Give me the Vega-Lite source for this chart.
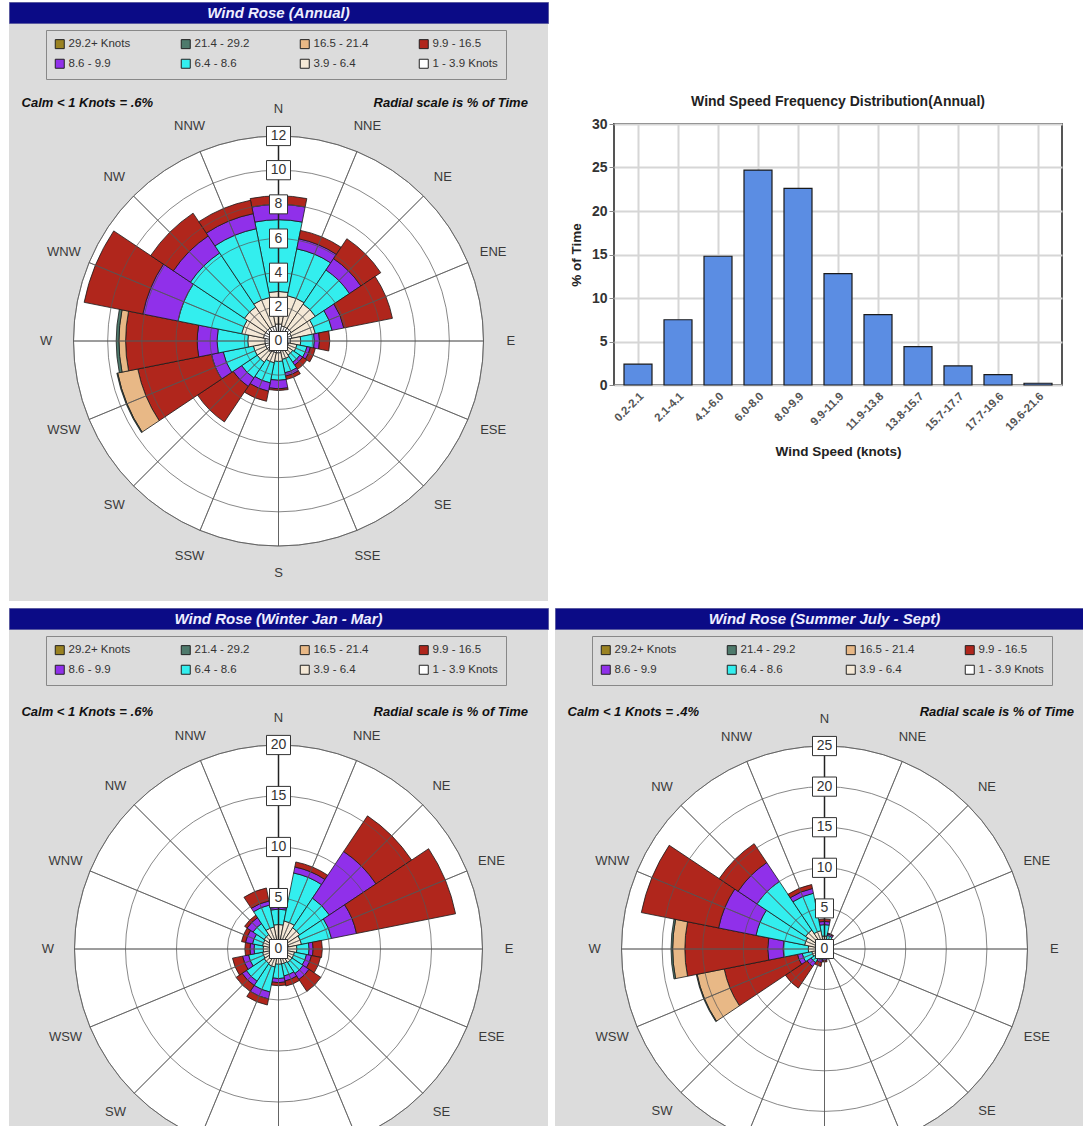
{
  "$schema": "https://vega.github.io/schema/vega-lite/v6.json",
  "background": "white",
  "padding": {"left": 8, "top": 1, "right": 0, "bottom": 0},
  "config": {"font": "Liberation Sans", "view": {"stroke": null}},
  "datasets": {
    "dirs": [{"d":"N"},{"d":"NNE"},{"d":"NE"},{"d":"ENE"},{"d":"E"},{"d":"ESE"},{"d":"SE"},{"d":"SSE"},{"d":"S"},{"d":"SSW"},{"d":"SW"},{"d":"WSW"},{"d":"W"},{"d":"WNW"},{"d":"NW"},{"d":"NNW"}],
    "annual": [
      {"d":"N","k":1,"v":1.0},{"d":"N","k":2,"v":1.9},{"d":"N","k":3,"v":4.2},{"d":"N","k":4,"v":0.9},{"d":"N","k":5,"v":0.5},
      {"d":"NNE","k":1,"v":0.9},{"d":"NNE","k":2,"v":1.8},{"d":"NNE","k":3,"v":2.8},{"d":"NNE","k":4,"v":0.6},{"d":"NNE","k":5,"v":0.5},
      {"d":"NE","k":1,"v":0.9},{"d":"NE","k":2,"v":1.7},{"d":"NE","k":3,"v":2.4},{"d":"NE","k":4,"v":0.8},{"d":"NE","k":5,"v":1.4},
      {"d":"ENE","k":1,"v":0.8},{"d":"ENE","k":2,"v":1.4},{"d":"ENE","k":3,"v":1.0},{"d":"ENE","k":4,"v":0.7},{"d":"ENE","k":5,"v":2.9},
      {"d":"E","k":1,"v":0.7},{"d":"E","k":2,"v":0.6},{"d":"E","k":3,"v":0.8},{"d":"E","k":4,"v":0.3},{"d":"E","k":5,"v":0.6},
      {"d":"ESE","k":1,"v":0.6},{"d":"ESE","k":2,"v":0.5},{"d":"ESE","k":3,"v":0.6},{"d":"ESE","k":4,"v":0.2},{"d":"ESE","k":5,"v":0.3},
      {"d":"SE","k":1,"v":0.5},{"d":"SE","k":2,"v":0.5},{"d":"SE","k":3,"v":0.5},{"d":"SE","k":4,"v":0.2},{"d":"SE","k":5,"v":0.3},
      {"d":"SSE","k":1,"v":0.6},{"d":"SSE","k":2,"v":0.5},{"d":"SSE","k":3,"v":0.8},{"d":"SSE","k":4,"v":0.2},{"d":"SSE","k":5,"v":0.2},
      {"d":"S","k":1,"v":0.7},{"d":"S","k":2,"v":0.5},{"d":"S","k":3,"v":1.1},{"d":"S","k":4,"v":0.5},{"d":"S","k":5,"v":0.1},
      {"d":"SSW","k":1,"v":0.7},{"d":"SSW","k":2,"v":0.6},{"d":"SSW","k":3,"v":1.2},{"d":"SSW","k":4,"v":0.5},{"d":"SSW","k":5,"v":0.6},
      {"d":"SW","k":1,"v":0.8},{"d":"SW","k":2,"v":0.7},{"d":"SW","k":3,"v":1.1},{"d":"SW","k":4,"v":0.6},{"d":"SW","k":5,"v":2.5},
      {"d":"WSW","k":1,"v":0.8},{"d":"WSW","k":2,"v":0.7},{"d":"WSW","k":3,"v":1.8},{"d":"WSW","k":4,"v":0.7},{"d":"WSW","k":5,"v":4.4},{"d":"WSW","k":6,"v":1.2},{"d":"WSW","k":7,"v":0.05},
      {"d":"W","k":1,"v":0.8},{"d":"W","k":2,"v":1.0},{"d":"W","k":3,"v":1.8},{"d":"W","k":4,"v":1.16},{"d":"W","k":5,"v":4.19},{"d":"W","k":6,"v":0.39},{"d":"W","k":7,"v":0.16},
      {"d":"WNW","k":1,"v":0.9},{"d":"WNW","k":2,"v":1.3},{"d":"WNW","k":3,"v":3.8},{"d":"WNW","k":4,"v":2.1},{"d":"WNW","k":5,"v":3.5},
      {"d":"NW","k":1,"v":0.9},{"d":"NW","k":2,"v":1.5},{"d":"NW","k":3,"v":3.8},{"d":"NW","k":4,"v":1.2},{"d":"NW","k":5,"v":1.6},
      {"d":"NNW","k":1,"v":0.9},{"d":"NNW","k":2,"v":1.7},{"d":"NNW","k":3,"v":4.1},{"d":"NNW","k":4,"v":0.9},{"d":"NNW","k":5,"v":0.8}
    ],
    "winter": [
      {"d":"N","k":1,"v":0.9},{"d":"N","k":2,"v":1.5},{"d":"N","k":3,"v":1.5},{"d":"N","k":4,"v":0.2},{"d":"N","k":5,"v":0.2},
      {"d":"NNE","k":1,"v":1.0},{"d":"NNE","k":2,"v":1.8},{"d":"NNE","k":3,"v":4.8},{"d":"NNE","k":4,"v":0.6},{"d":"NNE","k":5,"v":0.5},
      {"d":"NE","k":1,"v":1.0},{"d":"NE","k":2,"v":1.5},{"d":"NE","k":3,"v":3.5},{"d":"NE","k":4,"v":5.5},{"d":"NE","k":5,"v":4.2},
      {"d":"ENE","k":1,"v":1.0},{"d":"ENE","k":2,"v":1.3},{"d":"ENE","k":3,"v":3.0},{"d":"ENE","k":4,"v":2.5},{"d":"ENE","k":5,"v":9.9},
      {"d":"E","k":1,"v":0.9},{"d":"E","k":2,"v":0.9},{"d":"E","k":3,"v":1.2},{"d":"E","k":4,"v":0.4},{"d":"E","k":5,"v":0.9},
      {"d":"ESE","k":1,"v":0.8},{"d":"ESE","k":2,"v":0.8},{"d":"ESE","k":3,"v":1.2},{"d":"ESE","k":4,"v":0.5},{"d":"ESE","k":5,"v":0.9},
      {"d":"SE","k":1,"v":0.8},{"d":"SE","k":2,"v":0.8},{"d":"SE","k":3,"v":1.3},{"d":"SE","k":4,"v":0.7},{"d":"SE","k":5,"v":1.4},
      {"d":"SSE","k":1,"v":0.8},{"d":"SSE","k":2,"v":0.7},{"d":"SSE","k":3,"v":1.2},{"d":"SSE","k":4,"v":0.5},{"d":"SSE","k":5,"v":0.5},
      {"d":"S","k":1,"v":0.8},{"d":"S","k":2,"v":0.7},{"d":"S","k":3,"v":1.4},{"d":"S","k":4,"v":0.4},{"d":"S","k":5,"v":0.3},
      {"d":"SSW","k":1,"v":0.9},{"d":"SSW","k":2,"v":0.9},{"d":"SSW","k":3,"v":2.5},{"d":"SSW","k":4,"v":0.7},{"d":"SSW","k":5,"v":0.6},
      {"d":"SW","k":1,"v":0.9},{"d":"SW","k":2,"v":0.8},{"d":"SW","k":3,"v":2.1},{"d":"SW","k":4,"v":0.5},{"d":"SW","k":5,"v":0.7},
      {"d":"WSW","k":1,"v":0.8},{"d":"WSW","k":2,"v":0.8},{"d":"WSW","k":3,"v":1.4},{"d":"WSW","k":4,"v":0.6},{"d":"WSW","k":5,"v":1.0},
      {"d":"W","k":1,"v":0.8},{"d":"W","k":2,"v":0.7},{"d":"W","k":3,"v":0.9},{"d":"W","k":4,"v":0.4},{"d":"W","k":5,"v":0.5},
      {"d":"WNW","k":1,"v":0.8},{"d":"WNW","k":2,"v":0.8},{"d":"WNW","k":3,"v":1.0},{"d":"WNW","k":4,"v":0.7},{"d":"WNW","k":5,"v":0.4},
      {"d":"NW","k":1,"v":0.8},{"d":"NW","k":2,"v":0.9},{"d":"NW","k":3,"v":1.3},{"d":"NW","k":4,"v":0.7},{"d":"NW","k":5,"v":0.3},
      {"d":"NNW","k":1,"v":0.9},{"d":"NNW","k":2,"v":1.3},{"d":"NNW","k":3,"v":2.2},{"d":"NNW","k":4,"v":0.4},{"d":"NNW","k":5,"v":1.3}
    ],
    "summer": [
      {"d":"N","k":1,"v":0.8},{"d":"N","k":2,"v":0.8},{"d":"N","k":3,"v":1.4},{"d":"N","k":4,"v":0.4},{"d":"N","k":5,"v":0.3},
      {"d":"NNE","k":1,"v":0.6},{"d":"NNE","k":2,"v":0.5},{"d":"NNE","k":3,"v":0.6},{"d":"NNE","k":4,"v":0.2},{"d":"NNE","k":5,"v":0.1},
      {"d":"NE","k":1,"v":0.4},{"d":"NE","k":2,"v":0.3},{"d":"NE","k":3,"v":0.2},{"d":"NE","k":4,"v":0.1},{"d":"NE","k":5,"v":0.1},
      {"d":"ENE","k":1,"v":0.3},{"d":"ENE","k":2,"v":0.2},{"d":"ENE","k":3,"v":0.2},{"d":"ENE","k":4,"v":0.1},{"d":"ENE","k":5,"v":0.1},
      {"d":"E","k":1,"v":0.3},{"d":"E","k":2,"v":0.2},{"d":"E","k":3,"v":0.2},{"d":"E","k":4,"v":0.1},{"d":"E","k":5,"v":0.1},
      {"d":"ESE","k":1,"v":0.3},{"d":"ESE","k":2,"v":0.2},{"d":"ESE","k":3,"v":0.1},{"d":"ESE","k":4,"v":0.1},{"d":"ESE","k":5,"v":0.1},
      {"d":"SE","k":1,"v":0.3},{"d":"SE","k":2,"v":0.3},{"d":"SE","k":3,"v":0.2},{"d":"SE","k":4,"v":0.1},{"d":"SE","k":5,"v":0.1},
      {"d":"SSE","k":1,"v":0.4},{"d":"SSE","k":2,"v":0.3},{"d":"SSE","k":3,"v":0.3},{"d":"SSE","k":4,"v":0.1},{"d":"SSE","k":5,"v":0.2},
      {"d":"S","k":1,"v":0.4},{"d":"S","k":2,"v":0.4},{"d":"S","k":3,"v":0.4},{"d":"S","k":4,"v":0.2},{"d":"S","k":5,"v":0.2},
      {"d":"SSW","k":1,"v":0.5},{"d":"SSW","k":2,"v":0.4},{"d":"SSW","k":3,"v":0.5},{"d":"SSW","k":4,"v":0.3},{"d":"SSW","k":5,"v":0.5},
      {"d":"SW","k":1,"v":0.7},{"d":"SW","k":2,"v":0.6},{"d":"SW","k":3,"v":0.7},{"d":"SW","k":4,"v":0.6},{"d":"SW","k":5,"v":3.2},
      {"d":"WSW","k":1,"v":0.8},{"d":"WSW","k":2,"v":0.8},{"d":"WSW","k":3,"v":1.2},{"d":"WSW","k":4,"v":0.6},{"d":"WSW","k":5,"v":9.2},{"d":"WSW","k":6,"v":3.4},{"d":"WSW","k":7,"v":0.1},
      {"d":"W","k":1,"v":0.8},{"d":"W","k":2,"v":1.2},{"d":"W","k":3,"v":3.1},{"d":"W","k":4,"v":1.9},{"d":"W","k":5,"v":10.2},{"d":"W","k":6,"v":1.5},{"d":"W","k":7,"v":0.2},
      {"d":"WNW","k":1,"v":1.0},{"d":"WNW","k":2,"v":1.5},{"d":"WNW","k":3,"v":6.1},{"d":"WNW","k":4,"v":4.7},{"d":"WNW","k":5,"v":9.7},
      {"d":"NW","k":1,"v":1.0},{"d":"NW","k":2,"v":1.8},{"d":"NW","k":3,"v":7.2},{"d":"NW","k":4,"v":2.8},{"d":"NW","k":5,"v":2.8},
      {"d":"NNW","k":1,"v":0.9},{"d":"NNW","k":2,"v":1.4},{"d":"NNW","k":3,"v":4.7},{"d":"NNW","k":4,"v":0.6},{"d":"NNW","k":5,"v":0.5}
    ]
  },
  "spacing": 6,
  "resolve": {"scale": {"color": "independent", "radius": "independent", "theta": "independent", "x": "independent", "y": "independent"}, "legend": {"color": "independent"}},
  "vconcat": [
    {
      "spacing": 19,
      "resolve": {"scale": {"color": "independent", "radius": "independent", "theta": "independent", "x": "independent", "y": "independent"}, "legend": {"color": "independent"}},
      "hconcat": [
        {
          "spacing": 0,
          "resolve": {"scale": {"color": "independent", "radius": "independent", "theta": "independent", "x": "independent", "y": "independent"}, "legend": {"color": "independent"}},
          "vconcat": [
            {
              "width": 539, "height": 21,
              "view": {"fill": "#0b0b86", "stroke": "#5a5aa0"},
              "data": {"values": [{"t": "Wind Rose  (Annual)"}]},
              "mark": {"type": "text", "color": "#eeeeff", "fontSize": 15, "fontStyle": "italic", "fontWeight": "bold"},
              "encoding": {"text": {"field": "t"}}
            },
            {
              "width": 539, "height": 57,
              "view": {"fill": "#dcdcdc", "stroke": null},
              "data": {"values": []},
              "mark": {"type": "square"},
              "encoding": {
                "color": {"field": "b", "type": "nominal",
                  "scale": {"domain": ["29.2+ Knots", "21.4 - 29.2", "16.5 - 21.4", "9.9 - 16.5", "8.6 - 9.9", "6.4 - 8.6", "3.9 - 6.4", "1 - 3.9 Knots"], "range": ["#9a8222", "#4e7a6c", "#e8b886", "#b0261c", "#9030ea", "#33eeee", "#f4e8d6", "#ffffff"]},
                  "legend": {"title": null, "orient": "none", "legendX": 37, "legendY": 6, "direction": "horizontal", "columns": 4, "symbolType": "square", "symbolSize": 81, "symbolStrokeColor": "#222", "symbolStrokeWidth": 1, "symbolOpacity": 1, "labelFontSize": 11.5, "labelColor": "#333", "labelOffset": 3, "columnPadding": 48, "rowPadding": 6, "padding": 8, "strokeColor": "#888", "fillColor": "#dcdcdc"}
                }
              }
            },
            {
              "width": 539, "height": 520,
              "view": {"fill": "#dcdcdc", "stroke": null},
              "resolve": {"scale": {"theta": "independent"}},
              "layer": [
                {"data": {"values": [{"r": 12}]}, "mark": {"type": "arc", "fill": "white", "stroke": "#888", "strokeWidth": 1},
                 "encoding": {"radius": {"field": "r", "type": "quantitative", "stack": null, "scale": {"domain": [0, 12], "range": [0, 205], "nice": false, "zero": true}}}},
                {"data": {"name": "annual"}, "mark": {"type": "arc", "stroke": "#1a1a1a", "strokeWidth": 0.8},
                 "encoding": {
                   "theta": {"field": "d", "type": "nominal", "scale": {"type": "band", "domain": ["N","NNE","NE","ENE","E","ESE","SE","SSE","S","SSW","SW","WSW","W","WNW","NW","NNW"], "range": [-0.19635, 6.08684], "paddingInner": 0, "paddingOuter": 0}},
                   "radius": {"field": "v", "type": "quantitative", "stack": "zero", "scale": {"domain": [0, 12], "range": [0, 205], "nice": false, "zero": true}},
                   "color": {"field": "k", "type": "ordinal", "scale": {"domain": [1,2,3,4,5,6,7,8], "range": ["#ffffff", "#f4e8d6", "#33eeee", "#9030ea", "#b0261c", "#e8b886", "#4e7a6c", "#9a8222"]}, "legend": null},
                   "order": {"field": "k", "type": "quantitative"}
                 }},
                {"data": {"values": [{"r": 2}, {"r": 4}, {"r": 6}, {"r": 8}, {"r": 10}]}, "mark": {"type": "arc", "fill": "transparent", "stroke": "#555", "strokeOpacity": 0.7, "strokeWidth": 1},
                 "encoding": {"radius": {"field": "r", "type": "quantitative", "stack": null, "scale": {"domain": [0, 12], "range": [0, 205], "nice": false, "zero": true}}}},
                {"data": {"name": "dirs"}, "mark": {"type": "arc", "fill": "transparent", "stroke": "#555", "strokeOpacity": 0.7, "strokeWidth": 1},
                 "encoding": {"theta": {"aggregate": "count", "type": "quantitative"}, "detail": {"field": "d"},
                   "radius": {"datum": 12, "stack": null, "scale": {"domain": [0, 12], "range": [0, 205], "nice": false, "zero": true}}}},
                {"data": {"values": [{}]}, "mark": {"type": "rule", "color": "#222", "strokeWidth": 1.5},
                 "encoding": {"x": {"datum": 0, "type": "quantitative", "scale": {"domain": [-15.776, 15.776], "nice": false, "zero": false}, "axis": null},
                   "y": {"datum": 0, "type": "quantitative", "scale": {"domain": [-15.22, 15.22], "nice": false, "zero": false}, "axis": null},
                   "y2": {"datum": 12}}},
                {"data": {"values": [{"r": 0}, {"r": 2}, {"r": 4}, {"r": 6}, {"r": 8}, {"r": 10}, {"r": 12}]}, "transform": [{"filter": "datum.r < 10"}],
                 "mark": {"type": "point", "shape": "M-0.9,-0.95H0.9V0.95H-0.9Z", "size": 400, "filled": true, "fill": "white", "stroke": "#333", "strokeWidth": 1, "opacity": 1},
                 "encoding": {"x": {"datum": 0, "type": "quantitative", "scale": {"domain": [-15.776, 15.776], "nice": false, "zero": false}, "axis": null},
                   "y": {"field": "r", "type": "quantitative", "scale": {"domain": [-15.22, 15.22], "nice": false, "zero": false}, "axis": null}}},
                {"data": {"values": [{"r": 0}, {"r": 2}, {"r": 4}, {"r": 6}, {"r": 8}, {"r": 10}, {"r": 12}]}, "transform": [{"filter": "datum.r >= 10"}],
                 "mark": {"type": "point", "shape": "M-1,-0.8H1V0.8H-1Z", "size": 576, "filled": true, "fill": "white", "stroke": "#333", "strokeWidth": 1, "opacity": 1},
                 "encoding": {"x": {"datum": 0, "type": "quantitative", "scale": {"domain": [-15.776, 15.776], "nice": false, "zero": false}, "axis": null},
                   "y": {"field": "r", "type": "quantitative", "scale": {"domain": [-15.22, 15.22], "nice": false, "zero": false}, "axis": null}}},
                {"data": {"values": [{"r": 0}, {"r": 2}, {"r": 4}, {"r": 6}, {"r": 8}, {"r": 10}, {"r": 12}]},
                 "mark": {"type": "text", "fontSize": 14, "color": "#333"},
                 "encoding": {"x": {"datum": 0, "type": "quantitative", "scale": {"domain": [-15.776, 15.776], "nice": false, "zero": false}, "axis": null},
                   "y": {"field": "r", "type": "quantitative", "scale": {"domain": [-15.22, 15.22], "nice": false, "zero": false}, "axis": null},
                   "text": {"field": "r", "type": "quantitative"}}},
                {"data": {"name": "dirs"}, "mark": {"type": "text", "fontSize": 13, "color": "#3a3a3a"},
                 "encoding": {"theta": {"field": "d", "type": "nominal", "bandPosition": 0.5, "scale": {"type": "band", "domain": ["N","NNE","NE","ENE","E","ESE","SE","SSE","S","SSW","SW","WSW","W","WNW","NW","NNW"], "range": [-0.19635, 6.08684], "paddingInner": 0, "paddingOuter": 0}},
                   "radius": {"datum": 13.6, "scale": {"domain": [0, 12], "range": [0, 205], "nice": false, "zero": true}},
                   "text": {"field": "d"}}},
                {"data": {"values": [{"t": "Calm < 1 Knots = .6%"}]}, "mark": {"type": "text", "align": "left", "fontStyle": "italic", "fontWeight": "bold", "fontSize": 13, "color": "#111"},
                 "encoding": {"x": {"datum": -15.04, "type": "quantitative", "scale": {"domain": [-15.776, 15.776], "nice": false, "zero": false}, "axis": null},
                   "y": {"datum": 13.93, "type": "quantitative", "scale": {"domain": [-15.22, 15.22], "nice": false, "zero": false}, "axis": null},
                   "text": {"field": "t"}}},
                {"data": {"values": [{"t": "Radial scale is % of Time"}]}, "mark": {"type": "text", "align": "right", "fontStyle": "italic", "fontWeight": "bold", "fontSize": 13, "color": "#111"},
                 "encoding": {"x": {"datum": 14.6, "type": "quantitative", "scale": {"domain": [-15.776, 15.776], "nice": false, "zero": false}, "axis": null},
                   "y": {"datum": 13.93, "type": "quantitative", "scale": {"domain": [-15.22, 15.22], "nice": false, "zero": false}, "axis": null},
                   "text": {"field": "t"}}}
              ]
            }
          ]
        },
        {
          "spacing": 0,
          "vconcat": [
            {"width": 100, "height": 92, "data": {"values": []}, "mark": "point", "view": {"stroke": null}},
            {
              "width": 448, "height": 261,
              "view": {"stroke": "#555", "strokeWidth": 2},
              "title": {"text": "Wind Speed Frequency Distribution(Annual)", "fontSize": 14, "fontWeight": "bold", "color": "#222", "offset": 8},
              "data": {"values": [
                {"s": "0.2-2.1", "p": 2.4}, {"s": "2.1-4.1", "p": 7.5}, {"s": "4.1-6.0", "p": 14.8}, {"s": "6.0-8.0", "p": 24.7},
                {"s": "8.0-9.9", "p": 22.6}, {"s": "9.9-11.9", "p": 12.8}, {"s": "11.9-13.8", "p": 8.1}, {"s": "13.8-15.7", "p": 4.4},
                {"s": "15.7-17.7", "p": 2.2}, {"s": "17.7-19.6", "p": 1.2}, {"s": "19.6-21.6", "p": 0.2}
              ]},
              "mark": {"type": "bar", "fill": "#5b8de3", "stroke": "#1a1a1a", "strokeWidth": 1.2},
              "encoding": {
                "x": {"field": "s", "type": "ordinal", "sort": null, "scale": {"paddingInner": 0.3, "paddingOuter": 0.25},
                  "axis": {"title": "Wind Speed (knots)", "labelAngle": -45, "labelFontSize": 11.5, "labelColor": "#555", "labelFontWeight": "bold", "labelPadding": 5,
                    "titleFontSize": 13.5, "titleFontWeight": "bold", "titleColor": "#222", "titlePadding": 12,
                    "grid": true, "gridColor": "#d6d6d6", "gridWidth": 2, "bandPosition": 0.5, "ticks": false, "domain": false}},
                "y": {"field": "p", "type": "quantitative", "scale": {"domain": [0, 30], "nice": false},
                  "axis": {"title": "% of Time", "values": [0, 5, 10, 15, 20, 25, 30], "labelFontSize": 14, "labelFontWeight": "bold", "labelColor": "#333",
                    "titleFontSize": 13.5, "titleFontWeight": "bold", "titleColor": "#222", "titlePadding": 8,
                    "grid": true, "gridColor": "#d6d6d6", "gridWidth": 2, "domain": false, "tickColor": "#888", "tickSize": 5}}
              }
            }
          ]
        }
      ]
    },
    {
      "spacing": 5,
      "resolve": {"scale": {"color": "independent", "radius": "independent", "theta": "independent", "x": "independent", "y": "independent"}, "legend": {"color": "independent"}},
      "hconcat": [
        {
          "spacing": 0,
          "resolve": {"scale": {"color": "independent", "radius": "independent", "theta": "independent", "x": "independent", "y": "independent"}, "legend": {"color": "independent"}},
          "vconcat": [
            {
              "width": 539, "height": 21,
              "view": {"fill": "#0b0b86", "stroke": "#5a5aa0"},
              "data": {"values": [{"t": "Wind Rose (Winter Jan - Mar)"}]},
              "mark": {"type": "text", "color": "#eeeeff", "fontSize": 15, "fontStyle": "italic", "fontWeight": "bold"},
              "encoding": {"text": {"field": "t"}}
            },
            {
              "width": 539, "height": 57,
              "view": {"fill": "#dcdcdc", "stroke": null},
              "data": {"values": []},
              "mark": {"type": "square"},
              "encoding": {
                "color": {"field": "b", "type": "nominal",
                  "scale": {"domain": ["29.2+ Knots", "21.4 - 29.2", "16.5 - 21.4", "9.9 - 16.5", "8.6 - 9.9", "6.4 - 8.6", "3.9 - 6.4", "1 - 3.9 Knots"], "range": ["#9a8222", "#4e7a6c", "#e8b886", "#b0261c", "#9030ea", "#33eeee", "#f4e8d6", "#ffffff"]},
                  "legend": {"title": null, "orient": "none", "legendX": 37, "legendY": 6, "direction": "horizontal", "columns": 4, "symbolType": "square", "symbolSize": 81, "symbolStrokeColor": "#222", "symbolStrokeWidth": 1, "symbolOpacity": 1, "labelFontSize": 11.5, "labelColor": "#333", "labelOffset": 3, "columnPadding": 48, "rowPadding": 6, "padding": 8, "strokeColor": "#888", "fillColor": "#dcdcdc"}
                }
              }
            },
            {
              "width": 539, "height": 524,
              "view": {"fill": "#dcdcdc", "stroke": null},
              "resolve": {"scale": {"theta": "independent"}},
              "layer": [
                {"data": {"values": [{"r": 20}]}, "mark": {"type": "arc", "fill": "white", "stroke": "#888", "strokeWidth": 1},
                 "encoding": {"radius": {"field": "r", "type": "quantitative", "stack": null, "scale": {"domain": [0, 20], "range": [0, 204], "nice": false, "zero": true}}}},
                {"data": {"name": "winter"}, "mark": {"type": "arc", "stroke": "#1a1a1a", "strokeWidth": 0.8},
                 "encoding": {
                   "theta": {"field": "d", "type": "nominal", "scale": {"type": "band", "domain": ["N","NNE","NE","ENE","E","ESE","SE","SSE","S","SSW","SW","WSW","W","WNW","NW","NNW"], "range": [-0.19635, 6.08684], "paddingInner": 0, "paddingOuter": 0}},
                   "radius": {"field": "v", "type": "quantitative", "stack": "zero", "scale": {"domain": [0, 20], "range": [0, 204], "nice": false, "zero": true}},
                   "color": {"field": "k", "type": "ordinal", "scale": {"domain": [1,2,3,4,5,6,7,8], "range": ["#ffffff", "#f4e8d6", "#33eeee", "#9030ea", "#b0261c", "#e8b886", "#4e7a6c", "#9a8222"]}, "legend": null},
                   "order": {"field": "k", "type": "quantitative"}
                 }},
                {"data": {"values": [{"r": 5}, {"r": 10}, {"r": 15}]}, "mark": {"type": "arc", "fill": "transparent", "stroke": "#555", "strokeOpacity": 0.7, "strokeWidth": 1},
                 "encoding": {"radius": {"field": "r", "type": "quantitative", "stack": null, "scale": {"domain": [0, 20], "range": [0, 204], "nice": false, "zero": true}}}},
                {"data": {"name": "dirs"}, "mark": {"type": "arc", "fill": "transparent", "stroke": "#555", "strokeOpacity": 0.7, "strokeWidth": 1},
                 "encoding": {"theta": {"aggregate": "count", "type": "quantitative"}, "detail": {"field": "d"},
                   "radius": {"datum": 20, "stack": null, "scale": {"domain": [0, 20], "range": [0, 204], "nice": false, "zero": true}}}},
                {"data": {"values": [{}]}, "mark": {"type": "rule", "color": "#222", "strokeWidth": 1.5},
                 "encoding": {"x": {"datum": 0, "type": "quantitative", "scale": {"domain": [-26.422, 26.422], "nice": false, "zero": false}, "axis": null},
                   "y": {"datum": 0, "type": "quantitative", "scale": {"domain": [-25.686, 25.686], "nice": false, "zero": false}, "axis": null},
                   "y2": {"datum": 20}}},
                {"data": {"values": [{"r": 0}, {"r": 5}, {"r": 10}, {"r": 15}, {"r": 20}]}, "transform": [{"filter": "datum.r < 10"}],
                 "mark": {"type": "point", "shape": "M-0.9,-0.95H0.9V0.95H-0.9Z", "size": 400, "filled": true, "fill": "white", "stroke": "#333", "strokeWidth": 1, "opacity": 1},
                 "encoding": {"x": {"datum": 0, "type": "quantitative", "scale": {"domain": [-26.422, 26.422], "nice": false, "zero": false}, "axis": null},
                   "y": {"field": "r", "type": "quantitative", "scale": {"domain": [-25.686, 25.686], "nice": false, "zero": false}, "axis": null}}},
                {"data": {"values": [{"r": 0}, {"r": 5}, {"r": 10}, {"r": 15}, {"r": 20}]}, "transform": [{"filter": "datum.r >= 10"}],
                 "mark": {"type": "point", "shape": "M-1,-0.8H1V0.8H-1Z", "size": 576, "filled": true, "fill": "white", "stroke": "#333", "strokeWidth": 1, "opacity": 1},
                 "encoding": {"x": {"datum": 0, "type": "quantitative", "scale": {"domain": [-26.422, 26.422], "nice": false, "zero": false}, "axis": null},
                   "y": {"field": "r", "type": "quantitative", "scale": {"domain": [-25.686, 25.686], "nice": false, "zero": false}, "axis": null}}},
                {"data": {"values": [{"r": 0}, {"r": 5}, {"r": 10}, {"r": 15}, {"r": 20}]},
                 "mark": {"type": "text", "fontSize": 14, "color": "#333"},
                 "encoding": {"x": {"datum": 0, "type": "quantitative", "scale": {"domain": [-26.422, 26.422], "nice": false, "zero": false}, "axis": null},
                   "y": {"field": "r", "type": "quantitative", "scale": {"domain": [-25.686, 25.686], "nice": false, "zero": false}, "axis": null},
                   "text": {"field": "r", "type": "quantitative"}}},
                {"data": {"name": "dirs"}, "mark": {"type": "text", "fontSize": 13, "color": "#3a3a3a"},
                 "encoding": {"theta": {"field": "d", "type": "nominal", "bandPosition": 0.5, "scale": {"type": "band", "domain": ["N","NNE","NE","ENE","E","ESE","SE","SSE","S","SSW","SW","WSW","W","WNW","NW","NNW"], "range": [-0.19635, 6.08684], "paddingInner": 0, "paddingOuter": 0}},
                   "radius": {"datum": 22.6, "scale": {"domain": [0, 20], "range": [0, 204], "nice": false, "zero": true}},
                   "text": {"field": "d"}}},
                {"data": {"values": [{"t": "Calm < 1 Knots = .6%"}]}, "mark": {"type": "text", "align": "left", "fontStyle": "italic", "fontWeight": "bold", "fontSize": 13, "color": "#111"},
                 "encoding": {"x": {"datum": -25.2, "type": "quantitative", "scale": {"domain": [-26.422, 26.422], "nice": false, "zero": false}, "axis": null},
                   "y": {"datum": 23.24, "type": "quantitative", "scale": {"domain": [-25.686, 25.686], "nice": false, "zero": false}, "axis": null},
                   "text": {"field": "t"}}},
                {"data": {"values": [{"t": "Radial scale is % of Time"}]}, "mark": {"type": "text", "align": "right", "fontStyle": "italic", "fontWeight": "bold", "fontSize": 13, "color": "#111"},
                 "encoding": {"x": {"datum": 24.46, "type": "quantitative", "scale": {"domain": [-26.422, 26.422], "nice": false, "zero": false}, "axis": null},
                   "y": {"datum": 23.24, "type": "quantitative", "scale": {"domain": [-25.686, 25.686], "nice": false, "zero": false}, "axis": null},
                   "text": {"field": "t"}}}
              ]
            }
          ]
        },
        {
          "spacing": 0,
          "resolve": {"scale": {"color": "independent", "radius": "independent", "theta": "independent", "x": "independent", "y": "independent"}, "legend": {"color": "independent"}},
          "vconcat": [
            {
              "width": 539, "height": 21,
              "view": {"fill": "#0b0b86", "stroke": "#5a5aa0"},
              "data": {"values": [{"t": "Wind Rose (Summer July - Sept)"}]},
              "mark": {"type": "text", "color": "#eeeeff", "fontSize": 15, "fontStyle": "italic", "fontWeight": "bold"},
              "encoding": {"text": {"field": "t"}}
            },
            {
              "width": 539, "height": 57,
              "view": {"fill": "#dcdcdc", "stroke": null},
              "data": {"values": []},
              "mark": {"type": "square"},
              "encoding": {
                "color": {"field": "b", "type": "nominal",
                  "scale": {"domain": ["29.2+ Knots", "21.4 - 29.2", "16.5 - 21.4", "9.9 - 16.5", "8.6 - 9.9", "6.4 - 8.6", "3.9 - 6.4", "1 - 3.9 Knots"], "range": ["#9a8222", "#4e7a6c", "#e8b886", "#b0261c", "#9030ea", "#33eeee", "#f4e8d6", "#ffffff"]},
                  "legend": {"title": null, "orient": "none", "legendX": 37, "legendY": 6, "direction": "horizontal", "columns": 4, "symbolType": "square", "symbolSize": 81, "symbolStrokeColor": "#222", "symbolStrokeWidth": 1, "symbolOpacity": 1, "labelFontSize": 11.5, "labelColor": "#333", "labelOffset": 3, "columnPadding": 48, "rowPadding": 6, "padding": 8, "strokeColor": "#888", "fillColor": "#dcdcdc"}
                }
              }
            },
            {
              "width": 539, "height": 524,
              "view": {"fill": "#dcdcdc", "stroke": null},
              "resolve": {"scale": {"theta": "independent"}},
              "layer": [
                {"data": {"values": [{"r": 25}]}, "mark": {"type": "arc", "fill": "white", "stroke": "#888", "strokeWidth": 1},
                 "encoding": {"radius": {"field": "r", "type": "quantitative", "stack": null, "scale": {"domain": [0, 25], "range": [0, 203], "nice": false, "zero": true}}}},
                {"data": {"name": "summer"}, "mark": {"type": "arc", "stroke": "#1a1a1a", "strokeWidth": 0.8},
                 "encoding": {
                   "theta": {"field": "d", "type": "nominal", "scale": {"type": "band", "domain": ["N","NNE","NE","ENE","E","ESE","SE","SSE","S","SSW","SW","WSW","W","WNW","NW","NNW"], "range": [-0.19635, 6.08684], "paddingInner": 0, "paddingOuter": 0}},
                   "radius": {"field": "v", "type": "quantitative", "stack": "zero", "scale": {"domain": [0, 25], "range": [0, 203], "nice": false, "zero": true}},
                   "color": {"field": "k", "type": "ordinal", "scale": {"domain": [1,2,3,4,5,6,7,8], "range": ["#ffffff", "#f4e8d6", "#33eeee", "#9030ea", "#b0261c", "#e8b886", "#4e7a6c", "#9a8222"]}, "legend": null},
                   "order": {"field": "k", "type": "quantitative"}
                 }},
                {"data": {"values": [{"r": 5}, {"r": 10}, {"r": 15}, {"r": 20}]}, "mark": {"type": "arc", "fill": "transparent", "stroke": "#555", "strokeOpacity": 0.7, "strokeWidth": 1},
                 "encoding": {"radius": {"field": "r", "type": "quantitative", "stack": null, "scale": {"domain": [0, 25], "range": [0, 203], "nice": false, "zero": true}}}},
                {"data": {"name": "dirs"}, "mark": {"type": "arc", "fill": "transparent", "stroke": "#555", "strokeOpacity": 0.7, "strokeWidth": 1},
                 "encoding": {"theta": {"aggregate": "count", "type": "quantitative"}, "detail": {"field": "d"},
                   "radius": {"datum": 25, "stack": null, "scale": {"domain": [0, 25], "range": [0, 203], "nice": false, "zero": true}}}},
                {"data": {"values": [{}]}, "mark": {"type": "rule", "color": "#222", "strokeWidth": 1.5},
                 "encoding": {"x": {"datum": 0, "type": "quantitative", "scale": {"domain": [-33.19, 33.19], "nice": false, "zero": false}, "axis": null},
                   "y": {"datum": 0, "type": "quantitative", "scale": {"domain": [-32.27, 32.27], "nice": false, "zero": false}, "axis": null},
                   "y2": {"datum": 25}}},
                {"data": {"values": [{"r": 0}, {"r": 5}, {"r": 10}, {"r": 15}, {"r": 20}, {"r": 25}]}, "transform": [{"filter": "datum.r < 10"}],
                 "mark": {"type": "point", "shape": "M-0.9,-0.95H0.9V0.95H-0.9Z", "size": 400, "filled": true, "fill": "white", "stroke": "#333", "strokeWidth": 1, "opacity": 1},
                 "encoding": {"x": {"datum": 0, "type": "quantitative", "scale": {"domain": [-33.19, 33.19], "nice": false, "zero": false}, "axis": null},
                   "y": {"field": "r", "type": "quantitative", "scale": {"domain": [-32.27, 32.27], "nice": false, "zero": false}, "axis": null}}},
                {"data": {"values": [{"r": 0}, {"r": 5}, {"r": 10}, {"r": 15}, {"r": 20}, {"r": 25}]}, "transform": [{"filter": "datum.r >= 10"}],
                 "mark": {"type": "point", "shape": "M-1,-0.8H1V0.8H-1Z", "size": 576, "filled": true, "fill": "white", "stroke": "#333", "strokeWidth": 1, "opacity": 1},
                 "encoding": {"x": {"datum": 0, "type": "quantitative", "scale": {"domain": [-33.19, 33.19], "nice": false, "zero": false}, "axis": null},
                   "y": {"field": "r", "type": "quantitative", "scale": {"domain": [-32.27, 32.27], "nice": false, "zero": false}, "axis": null}}},
                {"data": {"values": [{"r": 0}, {"r": 5}, {"r": 10}, {"r": 15}, {"r": 20}, {"r": 25}]},
                 "mark": {"type": "text", "fontSize": 14, "color": "#333"},
                 "encoding": {"x": {"datum": 0, "type": "quantitative", "scale": {"domain": [-33.19, 33.19], "nice": false, "zero": false}, "axis": null},
                   "y": {"field": "r", "type": "quantitative", "scale": {"domain": [-32.27, 32.27], "nice": false, "zero": false}, "axis": null},
                   "text": {"field": "r", "type": "quantitative"}}},
                {"data": {"name": "dirs"}, "mark": {"type": "text", "fontSize": 13, "color": "#3a3a3a"},
                 "encoding": {"theta": {"field": "d", "type": "nominal", "bandPosition": 0.5, "scale": {"type": "band", "domain": ["N","NNE","NE","ENE","E","ESE","SE","SSE","S","SSW","SW","WSW","W","WNW","NW","NNW"], "range": [-0.19635, 6.08684], "paddingInner": 0, "paddingOuter": 0}},
                   "radius": {"datum": 28.3, "scale": {"domain": [0, 25], "range": [0, 203], "nice": false, "zero": true}},
                   "text": {"field": "d"}}},
                {"data": {"values": [{"t": "Calm < 1 Knots = .4%"}]}, "mark": {"type": "text", "align": "left", "fontStyle": "italic", "fontWeight": "bold", "fontSize": 13, "color": "#111"},
                 "encoding": {"x": {"datum": -31.65, "type": "quantitative", "scale": {"domain": [-33.19, 33.19], "nice": false, "zero": false}, "axis": null},
                   "y": {"datum": 29.19, "type": "quantitative", "scale": {"domain": [-32.27, 32.27], "nice": false, "zero": false}, "axis": null},
                   "text": {"field": "t"}}},
                {"data": {"values": [{"t": "Radial scale is % of Time"}]}, "mark": {"type": "text", "align": "right", "fontStyle": "italic", "fontWeight": "bold", "fontSize": 13, "color": "#111"},
                 "encoding": {"x": {"datum": 30.73, "type": "quantitative", "scale": {"domain": [-33.19, 33.19], "nice": false, "zero": false}, "axis": null},
                   "y": {"datum": 29.19, "type": "quantitative", "scale": {"domain": [-32.27, 32.27], "nice": false, "zero": false}, "axis": null},
                   "text": {"field": "t"}}}
              ]
            }
          ]
        }
      ]
    }
  ]
}
